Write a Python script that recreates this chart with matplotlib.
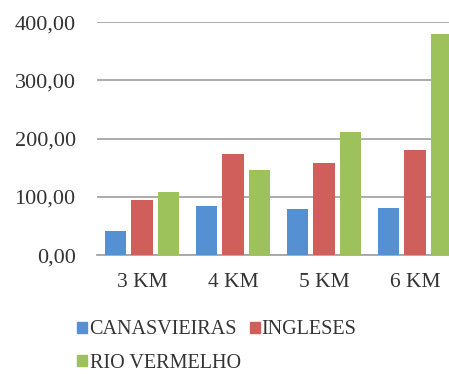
import numpy as np
import matplotlib.pyplot as plt
from matplotlib.patches import Patch

categories = ['3 KM', '4 KM', '5 KM', '6 KM']
series = ['CANASVIEIRAS', 'INGLESES', 'RIO VERMELHO']
canasvieiras = [41, 85, 79, 80]
ingleses = [95, 174, 158, 181]
rio_vermelho = [108, 146, 211, 379]
yticks = [0, 100, 200, 300, 400]

colors = ['#5590D2', '#D05E5A', '#9DC25B']

plt.rcParams['font.family'] = ['Liberation Serif', 'DejaVu Serif']

fig = plt.figure(figsize=(4.49, 3.74), dpi=100)
# plot area runs off the right edge, like the cropped original
ax = fig.add_axes([0.215, 0.318, 0.811, 0.623])

x = np.arange(len(categories))
w = 0.235
step = 0.29
for i, (vals, c) in enumerate(zip([canasvieiras, ingleses, rio_vermelho], colors)):
    ax.bar(x + (i - 1) * step, vals, width=w, color=c, zorder=3)

ax.set_xlim(-0.5, 3.5)
ax.set_ylim(0, 400)
ax.set_yticks(yticks)
ax.set_yticklabels(['%d,00' % v for v in yticks], fontsize=16, color='#333333')
ax.set_xticks(x)
ax.set_xticklabels(categories, fontsize=15.5, color='#333333')
ax.tick_params(axis='y', length=0, pad=15)
ax.tick_params(axis='x', length=0, pad=13)
ax.yaxis.grid(True, color='#A6A6A6', linewidth=1.3, zorder=0)
for s in ['top', 'right', 'left']:
    ax.spines[s].set_visible(False)
ax.spines['bottom'].set_color('#A6A6A6')
ax.spines['bottom'].set_linewidth(1.3)

# column-major fill, so order gives CANASVIEIRAS | INGLESES / RIO VERMELHO
order = [0, 2, 1]
handles = [Patch(color=colors[k]) for k in order]
labels = [series[k] for k in order]
fig.legend(handles, labels, ncol=2, frameon=False, fontsize=14.5,
           loc='upper left', bbox_to_anchor=(0.15, 0.17),
           handlelength=0.5, handleheight=0.5, handletextpad=0.1,
           columnspacing=0.45, labelspacing=0.7, borderpad=0,
           labelcolor='#333333')

fig.savefig('out.png', dpi=100)
